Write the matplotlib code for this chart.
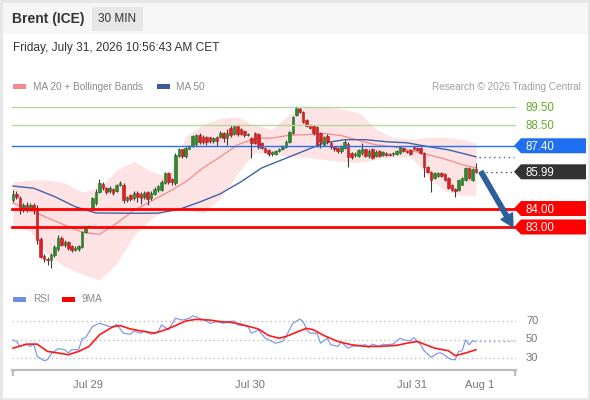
import matplotlib
matplotlib.use('Agg')
import matplotlib.pyplot as plt
from matplotlib.patches import Polygon, Rectangle
import numpy as np

plt.rcParams['font.family'] = ['Liberation Sans', 'DejaVu Sans']

# 30 min candles
opens = [84.45, 84.8, 84.55, 83.9, 84.2, 83.95, 84.2, 84.05, 82.35, 81.45,
         81.25, 81.2, 81.5, 81.8, 82.4, 82.0, 82.2, 81.95, 81.75, 81.8,
         81.9, 82.75, 83.0, 84.0, 84.3, 84.9, 85.35, 85.1, 84.95, 85.05,
         84.95, 85.25, 85.3, 84.45, 84.75, 84.55, 84.85, 84.8, 84.6, 84.9,
         84.55, 84.8, 85.0, 85.0, 85.4, 85.95, 85.6, 85.4, 86.85, 87.2,
         86.85, 87.25, 87.4, 87.5, 88.0, 87.9, 87.85, 87.85, 87.65, 87.85,
         87.85, 88.1, 87.8, 88.35, 88.05, 88.45, 88.3, 88.2, 88.0, 87.8,
         88.1, 88.05, 87.55, 87.3, 87.15, 86.95, 86.95, 87.1, 87.2, 87.35,
         87.6, 88.1, 89.05, 89.4, 89.25, 88.8, 88.5, 88.5, 88.4, 88.1,
         87.45, 87.95, 87.55, 87.35, 87.3, 87.1, 87.3, 87.5, 87.0, 86.9,
         86.85, 87.0, 87.2, 86.85, 87.2, 86.85, 87.1, 86.9, 87.0, 86.95,
         86.95, 86.95, 87.0, 87.3, 87.1, 87.15, 87.35, 87.3, 87.3, 87.0,
         86.25, 86.0, 85.65, 85.75, 85.95, 85.85, 85.65, 85.3, 85.05, 85.0,
         85.3, 85.55, 86.2, 85.55, 86.15]
highs = [85.0, 84.95, 84.7, 84.3, 84.35, 84.3, 84.3, 84.2, 82.45, 81.55,
         81.4, 81.6, 82.0, 82.55, 82.5, 82.3, 82.25, 82.05, 81.95, 82.0,
         82.8, 83.05, 83.1, 84.6, 85.05, 85.6, 85.45, 85.15, 85.2, 85.1,
         85.35, 85.5, 85.4, 84.7, 84.8, 84.95, 84.95, 84.9, 84.95, 84.95,
         84.95, 85.15, 85.3, 85.55, 86.0, 86.0, 85.65, 87.0, 87.3, 87.25,
         87.35, 87.45, 88.0, 88.05, 88.1, 88.0, 87.95, 87.9, 87.9, 87.95,
         88.2, 88.15, 88.3, 88.5, 88.55, 88.5, 88.35, 88.25, 88.1, 87.85,
         88.15, 88.1, 87.6, 87.35, 87.2, 87.1, 87.15, 87.3, 87.45, 87.7,
         88.2, 89.0, 89.55, 89.5, 89.3, 88.85, 88.6, 88.55, 88.45, 88.15,
         87.95, 88.05, 87.6, 87.4, 87.35, 87.45, 87.7, 87.6, 87.05, 87.05,
         87.2, 87.55, 87.25, 87.2, 87.3, 87.15, 87.15, 87.1, 87.05, 87.0,
         87.05, 87.15, 87.4, 87.35, 87.15, 87.2, 87.4, 87.35, 87.35, 87.05,
         86.3, 86.05, 86.0, 86.0, 86.0, 85.9, 85.7, 85.35, 85.1, 85.6,
         85.7, 86.25, 86.25, 86.2, 86.45]
lows = [84.35, 84.5, 83.7, 83.8, 83.8, 83.85, 83.7, 82.1, 81.3, 81.1,
        80.95, 80.78, 81.4, 81.7, 81.95, 81.9, 81.75, 81.65, 81.7, 81.7,
        81.85, 82.7, 82.95, 83.9, 84.2, 84.85, 85.0, 84.8, 84.85, 84.75,
        84.9, 85.2, 84.3, 84.35, 84.4, 84.45, 84.35, 84.25, 84.5, 84.2,
        84.45, 84.75, 84.9, 84.95, 85.35, 85.35, 85.3, 85.3, 86.8, 86.75,
        86.75, 87.2, 87.35, 87.4, 87.5, 87.5, 87.45, 87.55, 87.55, 87.4,
        87.8, 87.6, 87.45, 87.9, 88.0, 87.95, 88.0, 87.9, 87.95, 86.75,
        87.5, 87.25, 87.2, 87.0, 86.85, 86.85, 86.9, 87.05, 87.15, 87.3,
        87.55, 88.05, 89.0, 89.15, 88.65, 88.4, 88.3, 88.0, 87.35, 87.3,
        87.4, 87.5, 87.25, 87.1, 87.0, 87.0, 87.25, 86.25, 86.7, 86.8,
        86.8, 86.9, 86.8, 86.75, 86.7, 86.8, 86.8, 86.85, 86.85, 86.85,
        86.85, 86.9, 86.95, 87.05, 87.0, 86.9, 87.15, 87.1, 86.95, 85.7,
        85.95, 84.9, 85.6, 85.7, 85.7, 85.5, 85.05, 84.95, 84.6, 84.95,
        85.25, 85.5, 85.6, 85.5, 85.9]
closes = [84.8, 84.6, 83.9, 84.2, 83.95, 84.2, 83.9, 82.3, 81.4, 81.25,
          81.2, 81.5, 81.9, 82.4, 82.05, 82.2, 81.85, 81.75, 81.85, 81.95,
          82.75, 83.0, 83.05, 84.55, 84.9, 85.4, 85.1, 84.9, 85.1, 84.85,
          85.3, 85.4, 84.45, 84.6, 84.5, 84.85, 84.6, 84.55, 84.85, 84.5,
          84.85, 85.05, 85.2, 85.45, 85.95, 85.45, 85.45, 86.9, 87.2, 86.85,
          87.3, 87.4, 87.95, 88.0, 87.6, 87.6, 87.6, 87.65, 87.8, 87.65,
          88.1, 87.8, 88.1, 88.0, 88.45, 88.05, 88.05, 88.0, 88.05, 87.55,
          87.55, 87.35, 87.3, 87.05, 86.95, 87.05, 87.1, 87.25, 87.4, 87.6,
          88.15, 88.95, 89.45, 89.25, 88.7, 88.45, 88.35, 88.1, 87.45, 87.6,
          87.85, 87.6, 87.35, 87.25, 87.1, 87.4, 87.6, 86.8, 86.8, 86.95,
          87.15, 87.25, 86.85, 87.1, 86.75, 87.05, 86.85, 87.05, 86.9, 86.9,
          86.95, 87.1, 87.35, 87.1, 87.05, 86.95, 87.2, 87.15, 87.0, 86.25,
          86.0, 85.55, 85.95, 85.95, 85.75, 85.55, 85.1, 85.0, 84.95, 85.55,
          85.65, 86.2, 85.65, 86.15, 85.99]

# MA 20 + Bollinger bands, MA 50 (sampled at candle positions)
band_idx = [0, 5, 10, 15, 20, 25, 30, 35, 40, 45, 50, 55, 60, 65,
            70, 75, 80, 85, 90, 95, 100, 105, 110, 115, 120, 125, 130, 134]
ma20 = [84.3, 83.9, 83.5, 83.1, 82.72, 82.6, 83.2, 83.9, 84.4, 84.9, 85.45, 86.2, 86.8, 87.45,
        87.8, 87.82, 87.97, 88.0, 88.07, 87.95, 87.7, 87.45, 87.35, 87.15, 86.93, 86.68, 86.38, 86.2]
bb_upper = [85.44, 85.55, 85.55, 85.38, 84.9, 85.1, 86.1, 86.55, 86.0, 85.7, 87.9, 88.55, 88.9, 88.95,
            88.5, 88.3, 89.1, 89.55, 89.5, 89.4, 89.2, 88.3, 87.85, 87.75, 87.85, 87.87, 87.75, 87.55]
bb_lower = [83.2, 82.75, 81.5, 80.85, 80.45, 80.13, 81.0, 82.55, 83.45, 84.0, 83.98, 83.75, 84.55, 85.9,
            87.05, 86.98, 86.8, 86.78, 86.65, 86.55, 86.5, 86.65, 86.8, 86.8, 85.8, 84.95, 84.7, 84.73]
ma50_idx = [0, 6, 12, 18, 24, 30, 36, 42, 48, 54, 60, 66, 72, 78,
            84, 90, 96, 102, 108, 114, 120, 126, 132, 134]
ma50 = [85.22, 85.1, 84.65, 84.1, 83.76, 83.75, 83.74, 83.75, 83.95, 84.35, 84.8, 85.45, 86.2, 86.65,
        87.1, 87.55, 87.73, 87.73, 87.62, 87.56, 87.36, 87.18, 86.9, 86.8]

# RSI and its 9 period MA
rsi_idx = [0, 1, 2, 4, 5, 6, 7, 9, 10, 11, 13, 15, 16, 17, 19, 20, 21, 23, 25, 28,
           29, 30, 32, 34, 35, 37, 38, 40, 42, 43, 45, 46, 47, 49, 51, 52, 54, 56, 57, 59,
           61, 62, 64, 65, 67, 68, 69, 71, 73, 75, 76, 78, 79, 81, 83, 84, 85, 86, 88, 89,
           91, 92, 94, 95, 97, 98, 100, 102, 103, 104, 106, 107, 108, 110, 112, 113, 115, 116, 118, 119,
           121, 123, 124, 126, 127, 128, 129, 130, 131, 132, 133, 134]
rsi = [49.6, 47.9, 42.5, 45, 42.5, 45, 31.8, 27.1, 28.2, 34.3, 40, 39, 35.4, 39, 39, 50.7, 52, 64, 67.5, 64,
       62.9, 66.4, 56.8, 55.7, 59.3, 56.8, 59.3, 55.7, 58.6, 65.7, 60.4, 66.4, 72.9, 71, 72.9, 75.7, 72.9, 70, 67.5, 69.3,
       67.5, 69.3, 70, 65.7, 65, 64, 56.8, 60.4, 51.4, 47.9, 46, 47.9, 53.2, 67.5, 72, 69.3, 60.4, 56.8, 56.8, 46,
       51.4, 44.3, 42.5, 47.1, 40.7, 42.5, 43.2, 44.3, 41.4, 45, 42.5, 45, 44.3, 45, 51.4, 49.6, 48.6, 52, 44.3, 37.9,
       30.7, 35.4, 35.4, 30, 28.2, 28.2, 37.1, 37.9, 49.6, 44.3, 48.6, 47.9]
rsi_ma_idx = [0, 4, 7, 10, 12, 16, 19, 22, 25, 29, 31, 34, 37, 41, 44, 47, 50, 53, 57, 60, 63, 66,
              71, 74, 77, 79, 83, 85, 87, 90, 94, 98, 102, 106, 111, 114, 117, 119, 122, 126, 128, 131, 134]
rsi_ma = [40.7, 45, 45, 37.1, 36, 33.6, 37.1, 42.5, 55, 64, 65, 61.4, 59.3, 56.8, 60.4, 65, 70, 71.8, 71, 69.3, 68.6, 66.4,
          61.4, 54.3, 51.4, 53.2, 59.3, 62.1, 60.4, 54.3, 47.9, 44.3, 42.5, 42.5, 43.6, 46, 47.9, 45, 40.7, 37.9, 32.5, 35.4, 39]

resist_levels = [89.5, 88.5]
pivot = 87.4
support_levels = [84.0, 83.0]
target = 83.0
rsi_levels = [70, 50, 30]
date_ticks = [21.7, 68.6, 115.5, 135.2]
date_labels = ['Jul 29', 'Jul 30', 'Jul 31', 'Aug 1']

# layout (pixels)
W, H = 590, 400
X0, DX = 13, 3.455   # first candle x, candle spacing
GRAY = '#8a8a8a'

fig = plt.figure(figsize=(W / 100, H / 100), dpi=100)
fig.patch.set_facecolor('white')


def box(top, height):
    return [0, 1 - (top + height) / H, 1, height / H]


ax = fig.add_axes(box(95, 190))
ax_r = fig.add_axes(box(305, 65))
ov = fig.add_axes([0, 0, 1, 1])
for a in (ax, ax_r, ov):
    a.set_facecolor('none')
xl = (-X0 / DX, (W - X0) / DX)
ax.set_xlim(xl)
ax_r.set_xlim(xl)
ax.set_ylim(89.5 - 178 / 18.46, 89.5 + 12 / 18.46)
ax_r.set_ylim(30 - 12 / 0.925, 70 + 16 / 0.925)
ov.set_xlim(0, W)
ov.set_ylim(H, 0)
ov.axis('off')
ax.axis('off')

# price panel
ax.fill_between(band_idx, bb_lower, bb_upper, color='#fde3e3', lw=0, zorder=1)
ax.plot(band_idx, ma20, color='#f28a8a', lw=0.9, zorder=2)
ax.plot(ma50_idx, ma50, color='#3f63a6', lw=1.0, zorder=2)

o = np.array(opens)
c = np.array(closes)
idx = np.arange(len(c))
up = c >= o
ax.vlines(idx, lows, highs, color='#3c3c3c', lw=0.8, zorder=3)
ax.bar(idx, np.maximum(np.abs(c - o), 0.04), bottom=np.minimum(o, c), width=0.74,
       color=np.where(up, '#2f8a2f', '#e02020'),
       edgecolor=np.where(up, '#1f6a1f', '#b01818'), lw=0.4, zorder=4)

fx = lambda px: px / W
for lv in resist_levels:
    ax.axhline(lv, xmin=fx(12), xmax=fx(515), color='#b6d89c', lw=1, zorder=5)
ax.axhline(pivot, xmin=fx(12), xmax=fx(514), color='#2a6ff0', lw=1, zorder=5)
for lv in support_levels:
    ax.axhline(lv, xmin=fx(12), xmax=fx(514), color='#ff0000', lw=2, zorder=5)
ax.axhline(closes[-1], xmin=fx(481), xmax=fx(514), color='#555555', lw=1, ls=(0, (1, 2.5)), zorder=5)
ax.axhline(ma50[-1], xmin=fx(479), xmax=fx(514), color='#3f63a6', lw=1, ls=(0, (1, 2.5)), zorder=5)

# RSI panel
for lv in rsi_levels:
    ax_r.axhline(lv, xmin=fx(12), xmax=fx(516), color='#b5b5b5', lw=0.9, ls=(0, (1, 2.5)))
    ax_r.text(fx(526), lv, str(lv), transform=ax_r.get_yaxis_transform(),
              color='#777777', fontsize=8, va='center')
ax_r.plot(rsi_idx, rsi, color='#7f9be8', lw=0.9)
ax_r.plot(rsi_ma_idx, rsi_ma, color='#ff1a1a', lw=1.2)
ax_r.axhline(rsi[-1], xmin=fx(479), xmax=fx(514), color='#7f9be8', lw=1, ls=(0, (1, 2.5)))

for s in ('top', 'left', 'right'):
    ax_r.spines[s].set_visible(False)
ax_r.spines['bottom'].set_color('#bbbbbb')
ax_r.spines['bottom'].set_linewidth(1.6)
ax_r.spines['bottom'].set_bounds((12 - X0) / DX, (516 - X0) / DX)
ax_r.set_yticks([])
ax_r.set_xticks(date_ticks)
ax_r.set_xticklabels(date_labels)
ax_r.set_xticks([(12.8 - X0) / DX, (515.2 - X0) / DX], minor=True)
ax_r.tick_params(axis='x', which='major', length=0, pad=7, labelsize=8, labelcolor='#777777')
ax_r.tick_params(axis='x', which='minor', direction='out', length=4, width=1.6, color='#bbbbbb')


def py(a, v):
    d = a.transData.transform((0, v))
    return ov.transData.inverted().transform(d)[1]


# header
ov.add_patch(Rectangle((0, 0), W, 34, fc='#f6f6f6', ec='none'))
ov.add_patch(Rectangle((92, 7), 51, 24, fc='#e6e6e6', ec='none'))
ov.add_patch(Rectangle((1, 1), W - 2, H - 2, fc='none', ec='#e6e6e6', lw=2))
ov.text(12, 19, 'Brent (ICE)', fontsize=10, fontweight='bold', color='#333333', va='center')
ov.text(117.5, 19, '30 MIN', fontsize=8.5, color='#333333', va='center', ha='center')
ov.text(13, 48, 'Friday, July 31, 2026 10:56:43 AM CET', fontsize=8.6, color='#333333', va='center')

# legends
ov.add_patch(Rectangle((13, 84), 13, 5, fc='#f58a8a', ec='none'))
ov.text(33, 86.5, 'MA 20 + Bollinger Bands', fontsize=7.2, color=GRAY, va='center')
ov.add_patch(Rectangle((157, 84), 13, 5, fc='#3a5c9c', ec='none'))
ov.text(176, 86.5, 'MA 50', fontsize=7.2, color=GRAY, va='center')
ov.text(581, 86.5, 'Research \u00a9 2026 Trading Central', fontsize=7.2, color='#a0a0a0',
        va='center', ha='right')
ov.add_patch(Rectangle((13, 297), 13, 5, fc='#6d8fe6', ec='none'))
ov.text(33, 299.5, 'RSI', fontsize=7.2, color=GRAY, va='center')
ov.add_patch(Rectangle((62, 297), 13, 5, fc='#ff0000', ec='none'))
ov.text(82, 299.5, '9MA', fontsize=7.2, color=GRAY, va='center')

# price tags
for lv in resist_levels:
    ov.text(525, py(ax, lv) + 1, f'{lv:.2f}', fontsize=8.3, color='#6aaa2c', va='center')


def tag(price, color):
    y = py(ax, price)
    pts = [(514, y), (521, y - 7.5), (586, y - 7.5), (586, y + 7.5), (521, y + 7.5)]
    ov.add_patch(Polygon(pts, closed=True, fc=color, ec='none'))
    ov.text(525, y + 1, f'{price:.2f}', fontsize=8.3, color='white', va='center')


tag(pivot, '#1f6ff0')
tag(closes[-1], '#333333')
for lv in support_levels:
    tag(lv, '#ff0000')

# projected move
ov.annotate('', xy=(513, py(ax, target)), xytext=(481, py(ax, closes[-1])),
            arrowprops=dict(arrowstyle='simple,head_length=0.9,head_width=0.95,tail_width=0.32',
                            color='#2f5e9c', shrinkA=0, shrinkB=0))

fig.savefig('out.png', dpi=100)
